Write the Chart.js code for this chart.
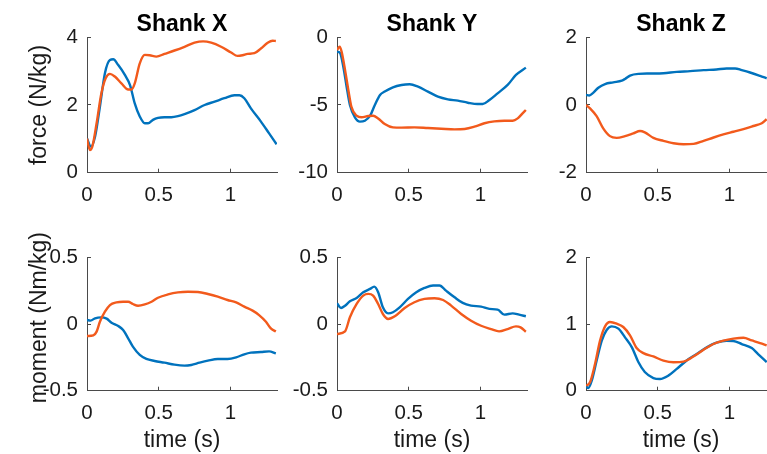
<!DOCTYPE html>
<html><head><meta charset="utf-8">
<script src="https://cdn.jsdelivr.net/npm/chart.js@4"></script>
<style>
html,body{margin:0;padding:0;width:767px;height:454px;overflow:hidden;background:#fff;position:relative}
canvas{position:absolute}
</style></head><body>
<script>
// ---- data (time in s) ----
const xMax = 1.325;
const xTicks = [0, 0.5, 1];
const titles = ['Shank X', 'Shank Y', 'Shank Z'];
const yLabels = ['force (N/kg)', '  moment (Nm/kg)'];
const xLabel = 'time (s)';

const yTicksFx = [0, 2, 4];
const yTicksFy = [-10, -5, 0];
const yTicksFz = [-2, 0, 2];
const yTicksMx = [-0.5, 0, 0.5];
const yTicksMy = [-0.5, 0, 0.5];
const yTicksMz = [0, 1, 2];

// Shank X force
const tFxB = [0,0.028,0.056,0.09,0.125,0.16,0.183,0.218,0.264,0.30,0.333,0.368,0.403,0.426,0.46,0.495,0.54,0.588,0.634,0.68,0.75,0.82,0.89,0.958,1.028,1.063,1.097,1.143,1.213,1.27,1.322];
const fxB  = [1.01,0.77,1.06,1.95,2.94,3.33,3.35,3.18,2.89,2.59,2.05,1.66,1.46,1.46,1.56,1.62,1.64,1.64,1.67,1.73,1.85,2.0,2.1,2.2,2.29,2.29,2.2,1.9,1.51,1.16,0.84];
const tFxO = [0,0.02,0.037,0.067,0.10,0.13,0.16,0.194,0.24,0.287,0.31,0.333,0.368,0.403,0.437,0.484,0.54,0.61,0.68,0.75,0.81,0.866,0.935,1.005,1.05,1.085,1.12,1.167,1.213,1.26,1.294,1.317];
const fxO  = [1.01,0.67,0.77,1.46,2.34,2.79,2.92,2.84,2.64,2.46,2.46,2.64,3.23,3.48,3.47,3.43,3.51,3.61,3.72,3.84,3.88,3.84,3.72,3.55,3.45,3.47,3.51,3.53,3.67,3.84,3.9,3.89];
// Shank Y force
const tFyB = [0,0.02,0.044,0.067,0.09,0.125,0.16,0.194,0.23,0.264,0.30,0.333,0.39,0.45,0.507,0.565,0.634,0.704,0.773,0.843,0.912,0.98,1.016,1.063,1.12,1.19,1.248,1.317];
const fyB  = [-1.06,-1.13,-2.17,-3.65,-5.0,-5.91,-6.23,-6.16,-5.81,-5.0,-4.26,-4.01,-3.69,-3.52,-3.47,-3.65,-4.01,-4.38,-4.58,-4.68,-4.83,-4.93,-4.93,-4.63,-4.14,-3.52,-2.78,-2.24];
const tFyO = [0,0.019,0.032,0.056,0.079,0.10,0.137,0.171,0.218,0.252,0.287,0.333,0.39,0.45,0.54,0.634,0.727,0.82,0.89,0.958,1.028,1.097,1.167,1.225,1.26,1.294,1.317];
const fyO  = [-0.94,-0.69,-1.06,-2.41,-3.89,-5.12,-5.79,-5.91,-5.81,-5.79,-5.99,-6.40,-6.65,-6.67,-6.65,-6.70,-6.75,-6.80,-6.77,-6.60,-6.35,-6.21,-6.16,-6.16,-5.99,-5.62,-5.37];
// Shank Z force
const tFzB = [0,0.023,0.05,0.086,0.133,0.19,0.25,0.272,0.307,0.365,0.447,0.54,0.633,0.726,0.82,0.91,0.98,1.04,1.086,1.144,1.214,1.26];
const fzB  = [0.30,0.28,0.36,0.51,0.62,0.67,0.72,0.77,0.87,0.92,0.93,0.94,0.98,1.0,1.03,1.05,1.08,1.08,1.03,0.96,0.86,0.79];
const tFzO = [0,0.028,0.074,0.12,0.167,0.214,0.272,0.33,0.377,0.41,0.47,0.54,0.61,0.68,0.75,0.82,0.89,0.958,1.028,1.098,1.167,1.226,1.26];
const fzO  = [0.0,-0.10,-0.33,-0.69,-0.92,-0.97,-0.92,-0.84,-0.77,-0.81,-0.97,-1.06,-1.13,-1.16,-1.15,-1.06,-0.96,-0.87,-0.79,-0.71,-0.62,-0.54,-0.42];
// Shank X moment
const tMxB = [0,0.025,0.056,0.10,0.137,0.171,0.218,0.252,0.287,0.32,0.368,0.414,0.472,0.54,0.61,0.68,0.727,0.785,0.843,0.912,0.98,1.04,1.097,1.143,1.213,1.27,1.317];
const mxB  = [0.03,0.025,0.043,0.05,0.04,0.01,-0.015,-0.045,-0.107,-0.17,-0.232,-0.262,-0.277,-0.29,-0.305,-0.312,-0.307,-0.29,-0.275,-0.262,-0.262,-0.25,-0.227,-0.215,-0.21,-0.205,-0.22];
const tMxO = [0,0.044,0.067,0.09,0.125,0.16,0.206,0.252,0.287,0.32,0.356,0.403,0.45,0.495,0.565,0.634,0.704,0.773,0.843,0.912,0.98,1.04,1.097,1.155,1.20,1.248,1.282,1.317];
const mxO  = [-0.09,-0.085,-0.057,0.017,0.092,0.142,0.162,0.167,0.167,0.15,0.137,0.147,0.167,0.197,0.222,0.237,0.242,0.24,0.225,0.205,0.18,0.162,0.13,0.10,0.067,0.017,-0.033,-0.057];
// Shank Y moment
const tMyB = [0,0.028,0.056,0.09,0.137,0.183,0.23,0.26,0.287,0.32,0.356,0.39,0.437,0.495,0.553,0.61,0.67,0.715,0.76,0.82,0.877,0.935,1.005,1.063,1.12,1.167,1.225,1.27,1.317];
const myB  = [0.155,0.12,0.137,0.17,0.195,0.238,0.263,0.28,0.238,0.125,0.08,0.088,0.125,0.188,0.238,0.27,0.289,0.289,0.25,0.2,0.158,0.138,0.13,0.113,0.108,0.07,0.08,0.07,0.058];
const tMyO = [0,0.056,0.09,0.137,0.183,0.218,0.252,0.287,0.32,0.356,0.403,0.472,0.54,0.61,0.68,0.74,0.796,0.866,0.935,1.005,1.074,1.13,1.19,1.248,1.28,1.317];
const myO  = [-0.075,-0.055,0.05,0.15,0.213,0.226,0.213,0.15,0.075,0.038,0.058,0.12,0.163,0.188,0.193,0.18,0.138,0.075,0.025,-0.013,-0.038,-0.055,-0.038,-0.018,-0.025,-0.058];
// Shank Z moment
const tMzB = [0,0.016,0.04,0.074,0.11,0.144,0.18,0.226,0.272,0.32,0.365,0.41,0.47,0.516,0.574,0.633,0.70,0.772,0.842,0.91,0.98,1.028,1.086,1.156,1.2,1.26];
const mzB  = [0.075,0.04,0.15,0.45,0.75,0.91,0.965,0.93,0.80,0.65,0.43,0.28,0.19,0.176,0.226,0.327,0.45,0.55,0.65,0.72,0.75,0.745,0.70,0.64,0.55,0.43];
const tMzO = [0,0.028,0.063,0.098,0.133,0.167,0.214,0.26,0.307,0.353,0.40,0.47,0.54,0.61,0.68,0.749,0.82,0.888,0.958,1.028,1.098,1.156,1.214,1.26];
const mzO  = [0.075,0.125,0.40,0.75,0.965,1.03,1.005,0.955,0.83,0.64,0.563,0.513,0.452,0.427,0.437,0.513,0.613,0.70,0.75,0.78,0.794,0.754,0.714,0.68];

// ---- rendering ----
const BLUE = '#0072BD', ORANGE = '#F25A1C', AXIS = '#4a4a4a', TEXT = '#1a1a1a';
Chart.defaults.font.family = "'Liberation Sans', Arial, Helvetica, sans-serif";

const zip = (t, v) => t.map((x, i) => ({x, y: v[i]}));

const panels = [
  {row:0, col:0, yt:yTicksFx, b:[tFxB,fxB], o:[tFxO,fxO]},
  {row:0, col:1, yt:yTicksFy, b:[tFyB,fyB], o:[tFyO,fyO]},
  {row:0, col:2, yt:yTicksFz, b:[tFzB,fzB], o:[tFzO,fzO]},
  {row:1, col:0, yt:yTicksMx, b:[tMxB,mxB], o:[tMxO,mxO]},
  {row:1, col:1, yt:yTicksMy, b:[tMyB,myB], o:[tMyO,myO]},
  {row:1, col:2, yt:yTicksMz, b:[tMzB,mzB], o:[tMzO,mzO]},
];

const colLeft = [0, 250, 499];
const YW = 87;
const CW = 281;
const rowTop = [0, 230];
const rowH = [213, 224];
const xAxisH = [40.3, 63.3];

panels.forEach(p => {
  const cv = document.createElement('canvas');
  cv.width = CW; cv.height = rowH[p.row];
  cv.style.left = colLeft[p.col] + 'px';
  cv.style.top = rowTop[p.row] + 'px';
  cv.style.width = CW + 'px'; cv.style.height = rowH[p.row] + 'px';
  document.body.appendChild(cv);
  new Chart(cv, {
    type: 'line',
    data: {datasets: [
      {data: zip(p.o[0], p.o[1]), borderColor: ORANGE},
      {data: zip(p.b[0], p.b[1]), borderColor: BLUE}
    ]},
    options: {
      responsive: false, animation: false, devicePixelRatio: 1,
      layout: {padding: {left: 0, right: 4, top: p.row ? 27.3 : 0, bottom: 0}},
      elements: {point: {radius: 0}, line: {borderWidth: 2.4, cubicInterpolationMode: 'monotone', fill: false}},
      plugins: {
        legend: {display: false}, tooltip: {enabled: false},
        title: {display: p.row === 0, text: titles[p.col], fullSize: false, color: '#000',
                font: {size: 23, weight: 'bold', lineHeight: 1}, padding: {top: 13.5, bottom: 0.8}}
      },
      scales: {
        x: {
          type: 'linear', min: 0, max: xMax,
          afterBuildTicks: s => { s.ticks = xTicks.map(v => ({value: v})); },
          afterFit: s => { s.height = xAxisH[p.row]; },
          ticks: {padding: 14, color: TEXT, font: {size: 20.5}, callback: v => String(v), maxRotation: 0, autoSkip: false},
          grid: {display: true, drawOnChartArea: false, drawTicks: true, tickLength: -4, color: AXIS},
          border: {display: true, color: AXIS, width: 1},
          title: {display: p.row === 1, text: xLabel, color: TEXT, font: {size: 23}, padding: {top: 0, bottom: 0}}
        },
        y: {
          type: 'linear', min: p.yt[0], max: p.yt[p.yt.length - 1],
          afterBuildTicks: s => { s.ticks = p.yt.map(v => ({value: v})); },
          afterFit: s => { s.width = YW; },
          ticks: {padding: 13, color: TEXT, font: {size: 20.5}, callback: v => String(v), autoSkip: false},
          grid: {display: true, drawOnChartArea: false, drawTicks: true, tickLength: -4, color: AXIS},
          border: {display: true, color: AXIS, width: 1},
          title: {display: p.col === 0, text: yLabels[p.row], color: TEXT, font: {size: 23}, padding: {top: 26, bottom: 0}}
        }
      }
    }
  });
});
</script>
</body></html>
